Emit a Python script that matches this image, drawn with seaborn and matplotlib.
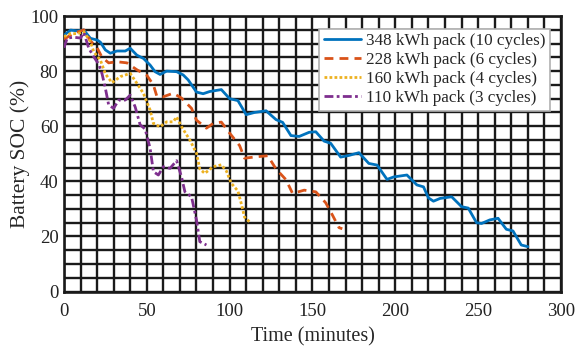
import matplotlib
matplotlib.use("Agg")
import matplotlib.pyplot as plt
from matplotlib.ticker import MultipleLocator
import seaborn as sns

# ---- data ----
t_348 = [0, 4, 8, 12, 16, 20, 22, 25, 28, 32, 37, 40, 44, 48, 52, 55, 58, 62, 68, 72, 75,
         80, 84, 88, 95, 100, 105, 110, 115, 122, 128, 132, 137, 142, 148, 152, 157, 161,
         167, 172, 178, 184, 189, 195, 199, 207, 213, 217, 220, 223, 227, 234, 240, 244,
         249, 252, 257, 262, 267, 271, 276, 280]
soc_348 = [93, 94.9, 94.6, 94.9, 91.9, 91.3, 90.5, 87.7, 86.5, 87.3, 87.3, 88.3, 85.8, 84.6,
           82.2, 79.8, 78.8, 80, 79.8, 78.6, 76.8, 72.4, 71.8, 72.6, 73.3, 70, 69.3, 64.2, 65,
           65.6, 62.4, 61.4, 56.6, 56.3, 57.8, 58, 54.6, 53.8, 48.8, 49.4, 50.4, 46.5, 45.9,
           40.7, 41.6, 42.3, 38.7, 38, 34, 32.8, 33.8, 34.4, 30.8, 30.3, 25, 24.7, 26, 26.6,
           22.6, 22, 16.9, 16.3]

t_228 = [0, 5, 12, 16, 20, 23, 27, 32, 38, 44, 50, 54, 56, 60, 66, 71, 77, 80, 86, 90, 95,
         100, 106, 109, 116, 123, 128, 134, 138, 145, 152, 158, 162, 166, 168]
soc_228 = [91.5, 93.5, 95, 91, 88.5, 85, 83, 83.4, 83, 80.5, 78.5, 75, 71, 70.7, 72, 70.2,
           66.5, 62.2, 59.3, 61, 61.5, 57.5, 53, 48.4, 48.9, 49.3, 44.5, 40.6, 35.6, 36.8,
           36.2, 32.2, 27.8, 23.2, 22.8]

t_160 = [0, 4, 8, 12, 16, 18, 22, 25, 29, 34, 40, 44, 48, 52, 54, 58, 62, 66, 68, 71, 76,
         80, 82, 85, 90, 95, 98, 101, 105, 107, 109, 112]
soc_160 = [92.5, 93.6, 93.6, 94.3, 90.7, 87, 84, 79, 75.8, 78, 79.2, 75.6, 71.9, 65.9, 61,
           59.8, 61.6, 61.6, 63.4, 59.8, 55, 50.2, 44.5, 42.9, 45.3, 46, 43.8, 39.3, 36.5, 32,
           27, 25.3]

t_110 = [0, 2, 6, 10, 12, 15, 18, 21, 23, 25, 27, 30, 33, 37, 40, 43, 46, 49, 52, 54, 57,
         60, 64, 68, 71, 73, 77, 80, 82, 86]
soc_110 = [88.5, 92, 92.3, 92, 94, 88.3, 85.2, 82.5, 79, 73.8, 67.7, 66.5, 69.5, 69.5, 71.3,
           67, 60.5, 59, 52, 43.5, 42.3, 45.3, 44.7, 47.5, 41.5, 36.2, 34.4, 26, 18.1, 16.9]

labels = ["348 kWh pack (10 cycles)", "228 kWh pack (6 cycles)",
          "160 kWh pack (4 cycles)", "110 kWh pack (3 cycles)"]
x_ticks = [0, 50, 100, 150, 200, 250, 300]
y_ticks = [0, 20, 40, 60, 80, 100]

# ---- style ----
sns.set_style("white")
plt.rcParams["font.family"] = ["Liberation Serif", "DejaVu Serif"]

fig = plt.figure(figsize=(5.76, 3.56), dpi=100)
ax = fig.add_axes([0.111, 0.181, 0.863, 0.774])

series = [
    (t_348, soc_348, "#0072BD", "-"),
    (t_228, soc_228, "#D95319", (0, (3.2, 2.2))),
    (t_160, soc_160, "#EDB120", (0, (1, 0.8))),
    (t_110, soc_110, "#7E2F8E", (0, (3.2, 1.2, 1, 1.2))),
]
for (tt, ss, col, ls), lab in zip(series, labels):
    sns.lineplot(x=tt, y=ss, ax=ax, color=col, linestyle=ls, linewidth=2.0,
                 label=lab, sort=False, zorder=3)

ax.set_xlim(0, 300)
ax.set_ylim(0, 100)
ax.set_xticks(x_ticks)
ax.set_yticks(y_ticks)
ax.xaxis.set_minor_locator(MultipleLocator(10))
ax.yaxis.set_minor_locator(MultipleLocator(5))
ax.set_axisbelow(True)
ax.grid(which="both", color="#1a1a1a", linewidth=1.7)
ax.tick_params(which="both", length=0, labelsize=13.5, colors="#222222")
ax.tick_params(axis="x", pad=8.5)
ax.tick_params(axis="y", pad=4)
for sp in ax.spines.values():
    sp.set_color("#1a1a1a")
    sp.set_linewidth(1.9)

ax.set_xlabel("Time (minutes)", fontsize=14.5, labelpad=5)
ax.set_ylabel("Battery SOC (%)", fontsize=15.5, labelpad=0)

leg = ax.legend(loc="upper right", bbox_to_anchor=(0.985, 0.966), fontsize=12.3,
                frameon=True, fancybox=False, framealpha=1, edgecolor="#b0b0b0",
                handlelength=2.2, handletextpad=0.3, borderpad=0.25, labelspacing=0.18,
                borderaxespad=0.2)
leg.get_frame().set_linewidth(1.2)

fig.savefig("out.png", dpi=100)
